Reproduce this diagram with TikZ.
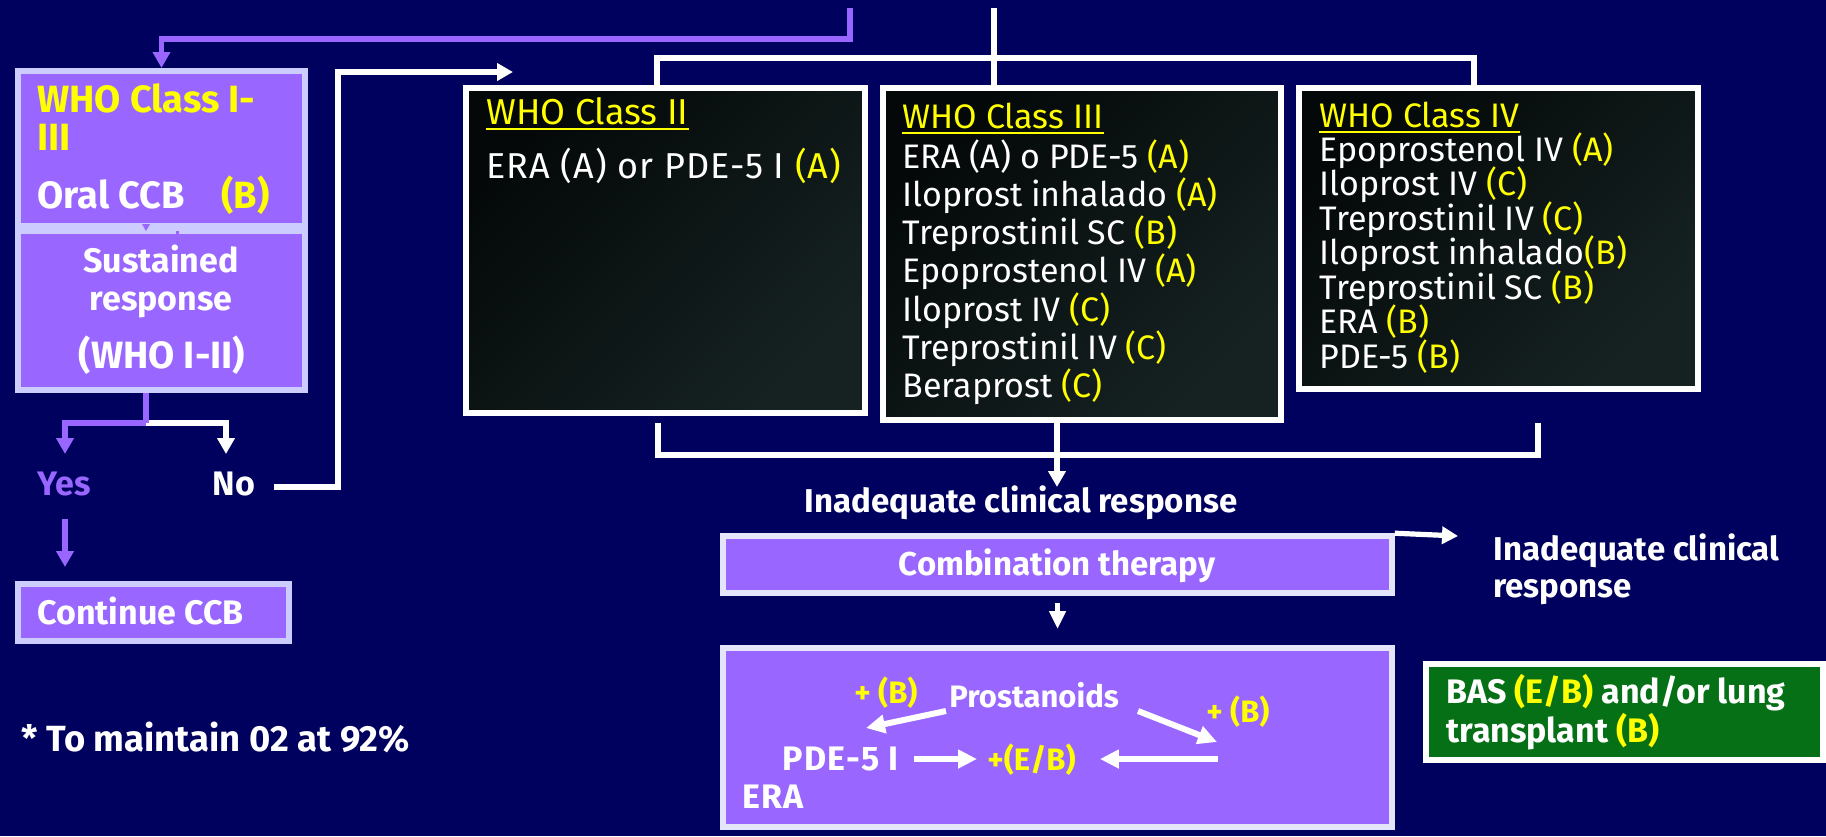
\documentclass[tikz,border=0pt]{standalone}
\usepackage{fontspec}
\setmainfont{Fira Sans}
\usetikzlibrary{arrows.meta,calc}

\definecolor{navy}{RGB}{0,0,94}
\definecolor{lilac}{RGB}{153,102,255}
\definecolor{lilacedge}{RGB}{204,204,255}
\definecolor{paleedge}{RGB}{228,228,250}
\definecolor{hl}{RGB}{255,255,0}
\definecolor{forest}{RGB}{5,112,22}
\definecolor{slateA}{RGB}{4,8,8}
\definecolor{slateB}{RGB}{22,34,34}

\newcommand{\hly}[1]{\textcolor{hl}{#1}}

\begin{document}
\begin{tikzpicture}[x=0.5pt,y=-0.5pt,
  tip/.tip={Triangle[width=8.5pt,length=8pt]},
  smalltip/.tip={Triangle[width=8pt,length=9pt]},
  pline/.style={draw=lilac,line width=2.6pt},
  wline/.style={draw=white,line width=2.6pt},
  warr/.style={draw=white,line width=3pt,-{Triangle[width=9pt,length=9.5pt]}},
  lilacbox/.style={draw=lilacedge,fill=lilac,line width=3pt,inner sep=0},
  purplebox/.style={draw=paleedge,fill=lilac,line width=2.8pt,inner sep=0},
  classbox/.style={draw=white,line width=3pt,inner sep=0,
    top color=slateA,bottom color=slateB,shading angle=45},
  lbl/.style={font=\fontsize{16.5}{19}\selectfont\bfseries,text=white,inner sep=0},
  lbig/.style={font=\fontsize{17}{20}\selectfont\bfseries,text=white,inner sep=0},
  lhuge/.style={font=\fontsize{19}{22}\selectfont\bfseries,text=white,inner sep=0},
  item/.style={font=\fontsize{17}{20}\selectfont,text=white,inner sep=0},
  bx/.style={font=\fontsize{15.5}{18}\selectfont\bfseries,text=white,inner sep=0},
  bxwide/.style={bx,font=\fontsize{17}{20}\selectfont\bfseries\addfontfeatures{LetterSpace=4}},
  uline/.style={draw=hl,line width=1.1pt}]

% canvas
\fill[navy] (0,0) rectangle (1826,836);
\useasboundingbox (0,0) rectangle (1826,836);

% ---------- left column: CCB trial ----------
\node[lilacbox,minimum width=143.5pt,minimum height=77.5pt] (ccbbox) at (161.5,148.5) {};
\node[lilacbox,minimum width=143.5pt,minimum height=79.5pt] (susbox) at (161.5,310.5) {};
\fill[lilac] (142,224) -- (150,224) -- (146,231) -- cycle;
\fill[lilac] (176,231) rectangle (179,236);

\node[lhuge,text=hl,anchor=base west] (who13a) at (37,112) {WHO Class I-};
\node[lhuge,text=hl,anchor=base west] (who13b) at (37,150) {III};
\node[lhuge,anchor=base west] (oral) at (37,208) {Oral CCB};
\node[lhuge,text=hl,anchor=base west] (oralgrade) at (221,208) {(B)};
\node[lbig,anchor=base] (sus1) at (161,272) {Sustained};
\node[lbig,anchor=base] (sus2) at (161,310) {response};
\node[lhuge,anchor=base] (sus3) at (162,368) {(WHO I-II)};

\node[lbig,text=lilac,anchor=base] (yes) at (64,495) {Yes};
\node[lbig,anchor=base] (no) at (234,495) {No};

\node[lilacbox,minimum width=135.5pt,minimum height=28.5pt] (contbox) at (153.5,612.5) {};
\node[lbig,anchor=base west] (cont) at (37,624) {Continue CCB};

\node[lhuge,font=\fontsize{18.2}{21}\selectfont\bfseries,anchor=base west] (note) at (21,751) {* To maintain 02 at 92\%};

% incoming purple line from above
\coordinate (ptop) at (850,8);
\coordinate (pbend) at (850,39);
\draw[pline,-tip] (ptop) -- (pbend) -| (ccbbox.north);

% yes / no split
\coordinate (split) at (146,423);
\coordinate (yesIn) at (65,454);
\coordinate (noIn) at (226,454);
\draw[wline,-tip] (split) -| (noIn);
\draw[pline] (split |- susbox.south) -- (split);
\draw[pline,-tip] (split) -| (yesIn);
\coordinate (yesOut) at (65,519);
\draw[pline,-tip,shorten >=7pt] (yesOut) -- (yesOut |- contbox.north);

% "No" leads on to the class boxes
\coordinate (noOut) at (274,487);
\coordinate (noBend) at (338,72);
\coordinate (noTip) at (513,72);
\draw[wline,-tip] (noOut) -| (noBend) -- (noTip);

% ---------- WHO class boxes ----------
\node[classbox,minimum width=199.5pt,minimum height=162.5pt] (c2) at (665.5,250.5) {};
\node[classbox,minimum width=199pt,minimum height=166pt] (c3) at (1082,254) {};
\node[classbox,minimum width=199.5pt,minimum height=150.5pt] (c4) at (1498.5,238.5) {};

\node[item,font=\fontsize{18}{20}\selectfont,text=hl,anchor=base west] (c2t) at (486,124) {WHO Class II};
\draw[uline] ([yshift=-2.6pt]c2t.base west) -- ([yshift=-2.6pt]c2t.base east);
\node[item,font=\fontsize{18}{20}\selectfont\addfontfeatures{LetterSpace=3},anchor=base west] (c2a) at (486,178) {ERA (A) or PDE-5 I \hly{(A)}};

\node[item,text=hl,anchor=base west] (c3t) at (902,128) {WHO Class III};
\draw[uline] ([yshift=-2.6pt]c3t.base west) -- ([yshift=-2.6pt]c3t.base east);
\foreach \txt [count=\k from 0] in {
    {ERA (A) o PDE-5 \hly{(A)}},
    {Iloprost inhalado \hly{(A)}},
    {Treprostinil SC \hly{(B)}},
    {Epoprostenol IV \hly{(A)}},
    {Iloprost IV \hly{(C)}},
    {Treprostinil IV \hly{(C)}},
    {Beraprost \hly{(C)}}}
  \node[item,anchor=base west] (c3i\k) at (902,{168+38.33*\k}) {\txt};

\node[item,text=hl,anchor=base west] (c4t) at (1319,127) {WHO Class IV};
\draw[uline] ([yshift=-2.6pt]c4t.base west) -- ([yshift=-2.6pt]c4t.base east);
\foreach \txt [count=\k from 0] in {
    {Epoprostenol IV \hly{(A)}},
    {Iloprost IV \hly{(C)}},
    {Treprostinil IV \hly{(C)}},
    {Iloprost inhalado\hly{(B)}},
    {Treprostinil SC \hly{(B)}},
    {ERA \hly{(B)}},
    {PDE-5 \hly{(B)}}}
  \node[item,anchor=base west] (c4i\k) at (1319,{161+34.5*\k}) {\txt};

% top bracket feeding the class boxes
\coordinate (wtop) at (994,8);
\draw[wline] (wtop) -- (wtop |- c3.north);
\coordinate (bl) at (657,58);
\coordinate (br) at (1474,58);
\draw[wline] (bl |- c2.north) -- (bl) -- (br) -- (br |- c4.north);

% bottom bracket collecting the class boxes
\coordinate (ql) at (658,455);
\coordinate (qr) at (1538,455);
\draw[wline] (ql) ++(0,-32) -- (ql) -- (qr) -- ++(0,-32);
\coordinate (qm) at (1057,487);
\draw[wline,-tip] (qm |- c3.south) -- (qm);

\node[lbl,anchor=base] (inad) at (1021,512) {Inadequate clinical response};

% ---------- combination therapy ----------
\node[purplebox,minimum width=334.5pt,minimum height=28.5pt] (combo) at (1057.5,564.5) {};
\node[lbl,anchor=base] (combot) at (1057,575) {Combination therapy};

\coordinate (rt) at (1458,536);
\draw[wline,-tip] (combo.north east) -- (rt);
\node[lbl,anchor=base west] (inadR1) at (1493,560) {Inadequate clinical};
\node[lbl,anchor=base west] (inadR2) at (1493,597) {response};

\node[purplebox,line width=3pt,minimum width=334.5pt,minimum height=89.5pt] (combos) at (1057.5,737.5) {};
\draw[wline,-smalltip,shorten <=3.5pt,shorten >=8pt] (combo.south) -- (combos.north);

\node[bx,text=hl,anchor=base west] (plusL) at (854,703) {+ (B)};
\node[bx,anchor=base west] (prost) at (949,707) {Prostanoids};
\node[bx,text=hl,anchor=base west] (plusR) at (1206,722) {+ (B)};
\node[bxwide,anchor=base east] (pde) at (899,770) {PDE-5 I};
\node[bx,text=hl,anchor=base west] (eb) at (987,770) {+(E/B)};
\node[bxwide,anchor=base west] (era) at (742,808) {ERA};

\coordinate (plA) at (946,711);
\coordinate (plB) at (866,728);
\coordinate (prA) at (1138,711);
\coordinate (prB) at (1217,742);
\coordinate (rc) at (1218,759);
\draw[warr] (plA) -- (plB);
\draw[warr] (prA) -- (prB);
\draw[warr,shorten <=7.5pt,shorten >=5pt] (pde.east |- rc) -- (eb.west |- rc);
\draw[warr,shorten >=12pt] (rc) -- (rc -| eb.east);

% ---------- last resort ----------
\node[draw=white,line width=3pt,fill=forest,inner sep=0,minimum width=198.5pt,minimum height=48pt] (bas) at (1624.5,712) {};
\node[lbig,anchor=base west] (bas1) at (1446,703) {BAS \hly{(E/B)} and/or lung};
\node[lbig,anchor=base west] (bas2) at (1446,742) {transplant \hly{(B)}};

\end{tikzpicture}
\end{document}
